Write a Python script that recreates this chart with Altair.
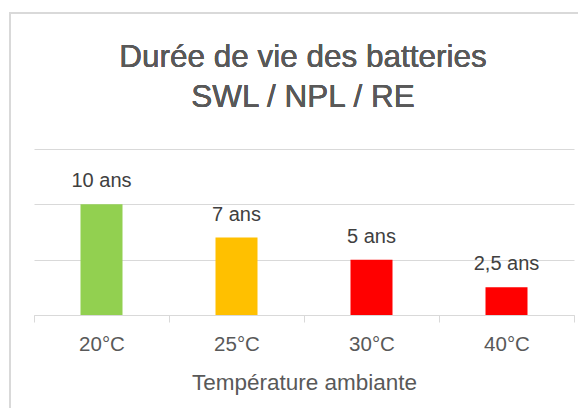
import altair as alt
import pandas as pd

temperatures = ["20°C", "25°C", "30°C", "40°C"]
lifetimes = [10, 7, 5, 2.5]
value_labels = ["10 ans", "7 ans", "5 ans", "2,5 ans"]
bar_colors = ["#92D050", "#FFC000", "#FF0000", "#FF0000"]
title_lines = ["Durée de vie des batteries", "SWL / NPL / RE"]
x_title = "Température ambiante"
y_ticks = [0, 5, 10, 15]

FONT = "Liberation Sans, Arial, sans-serif"

df = pd.DataFrame({"temp": temperatures, "years": lifetimes, "label": value_labels})

x_enc = alt.X(
    "temp:N",
    sort=None,
    scale=alt.Scale(paddingInner=0, paddingOuter=0),
    axis=alt.Axis(
        title=x_title,
        labelAngle=0,
        tickBand="extent",
        tickSize=7,
        tickColor="#d9d9d9",
        domainColor="#d9d9d9",
        domainWidth=1,
        labelFont=FONT,
        labelFontSize=20.5,
        labelColor="#595959",
        labelBaseline="alphabetic",
        labelPadding=28,
        titleFont=FONT,
        titleFontSize=22.5,
        titleFontWeight="normal",
        titleColor="#595959",
        titleBaseline="alphabetic",
        titleY=74,
        titleX=270,
        grid=False,
    ),
)
y_enc = alt.Y(
    "years:Q",
    scale=alt.Scale(domain=[0, 15], nice=False),
    axis=alt.Axis(
        values=y_ticks,
        labels=False,
        ticks=False,
        domain=False,
        title=None,
        grid=True,
        gridColor="#d9d9d9",
        gridWidth=1,
    ),
)

base = alt.Chart(df)

bars = base.mark_bar(size=42).encode(
    x=x_enc,
    y=y_enc,
    color=alt.Color("temp:N", sort=None,
                    scale=alt.Scale(domain=temperatures, range=bar_colors),
                    legend=None),
)

labels = base.mark_text(
    baseline="alphabetic", dy=-17, font=FONT, fontSize=20, color="#404040"
).encode(x=x_enc, y=y_enc, text="label:N")

frame = base.mark_rect(fillOpacity=0, stroke="#d9d9d9", strokeWidth=2).encode(
    x=alt.value(-24), x2=alt.value(700), y=alt.value(-136), y2=alt.value(500)
)

title1 = base.mark_text(
    font=FONT, fontSize=31.5, color="#595959", align="center", baseline="alphabetic"
).encode(x=alt.value(269), y=alt.value(-82), text=alt.value(title_lines[0]))

title2 = base.mark_text(
    font=FONT, fontSize=31.5, color="#595959", align="center", baseline="alphabetic"
).encode(x=alt.value(269), y=alt.value(-42), text=alt.value(title_lines[1]))

chart = (
    alt.layer(frame, bars, labels, title1, title2)
    .properties(
        width=540,
        height=166,
        autosize=alt.AutoSizeParams(type="none"),
        padding={"left": 26, "top": 141, "right": 4, "bottom": 93},
        background="white",
    )
    .configure_view(stroke=None)
)

chart.save("out.html", embed_options={"renderer": "svg", "actions": False})
